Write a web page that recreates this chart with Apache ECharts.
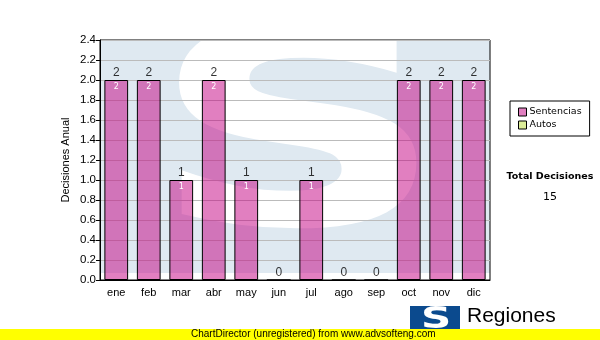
<!DOCTYPE html>
<html><head><meta charset="utf-8">
<script src="https://cdn.jsdelivr.net/npm/echarts@6/dist/echarts.min.js"></script>
<style>html,body{margin:0;padding:0;background:#fff}#c{width:600px;height:340px}</style>
</head><body><div id="c"></div>
<script>
var categories = ['ene','feb','mar','abr','may','jun','jul','ago','sep','oct','nov','dic'];
var sentencias = [2,2,1,2,1,0,1,0,0,2,2,2];
var autos = [0,0,0,0,0,0,0,0,0,0,0,0];
var totalDecisiones = 15;
var totals = sentencias.map(function(v,i){return v+autos[i];});

var chart = echarts.init(document.getElementById('c'), null, {renderer:'canvas'});
var font = 'Liberation Sans, Arial, sans-serif';
chart.setOption({
  animation:false,
  backgroundColor:'#ffffff',
  grid:{left:100,right:110,top:40,bottom:60,show:true,borderColor:'#000',borderWidth:1,backgroundColor:'transparent'},
  legend:{
    data:['Sentencias','Autos'], orient:'vertical', left:510, top:101,
    width:80, itemWidth:8, itemHeight:8, itemGap:3, padding:[6,8,6,8],
    borderColor:'#000', borderWidth:1, icon:'rect', selectedMode:false,
    textStyle:{fontFamily:'DejaVu Sans',fontSize:9.5,color:'#000',padding:[0,0,0,-2]},
    itemStyle:{borderColor:'#000',borderWidth:1}
  },
  xAxis:{type:'category',data:categories,
    axisLine:{lineStyle:{color:'#000'}},
    axisTick:{alignWithLabel:true,length:4,lineStyle:{color:'#000'}},
    axisLabel:{color:'#000',fontFamily:font,fontSize:11,margin:7}},
  yAxis:{type:'value',min:0,max:2.4,interval:0.2,
    name:'Decisiones Anual',nameLocation:'middle',nameGap:29,nameMoveOverlap:false,
    nameTextStyle:{fontFamily:font,fontSize:11,color:'#000'},
    axisLine:{show:true,lineStyle:{color:'#000'}},
    axisTick:{show:true,length:4,lineStyle:{color:'#000'}},
    axisLabel:{color:'#000',fontFamily:font,fontSize:11.5,margin:4,formatter:function(v){return v.toFixed(1);}},
    splitLine:{lineStyle:{color:'#bbbbbb'}}},
  graphic:[
    {type:'rect',z:-10,silent:true,shape:{x:101,y:41,width:389,height:232},style:{fill:'#dfe9f1'}},
    {type:'text',z:-9,silent:true,x:298,y:153,scaleX:1.5,
      style:{x:0,y:0,text:'S',fontFamily:'DejaVu Sans',fontWeight:'bold',fontSize:275,fill:'#ffffff',align:'center',verticalAlign:'middle'}},
    {type:'text',x:550,y:177,style:{x:0,y:0,text:'Total Decisiones',fontFamily:'DejaVu Sans',fontWeight:'bold',fontSize:9.5,fill:'#000',align:'center',verticalAlign:'middle'}},
    {type:'text',x:550,y:197,style:{x:0,y:0,text:String(totalDecisiones),fontFamily:'DejaVu Sans',fontSize:11,fill:'#000',align:'center',verticalAlign:'middle'}},
    {type:'rect',shape:{x:410,y:306,width:50,height:34},style:{fill:'#0b4a8e'}},
    {type:'text',x:436,y:320,scaleX:1.4,style:{x:0,y:0,text:'S',fontFamily:'DejaVu Sans',fontWeight:'bold',fontSize:30,fill:'#fff',align:'center',verticalAlign:'middle'}},
    {type:'text',x:467,y:316,style:{x:0,y:0,text:'Regiones',fontFamily:font,fontSize:21,fill:'#000',align:'left',verticalAlign:'middle'}},
    {type:'text',x:467,y:335,style:{x:0,y:0,text:'Tribunal Supremo de Justicia',fontFamily:font,fontSize:11,fill:'#000',align:'left',verticalAlign:'middle'}},
    {type:'rect',z:50,shape:{x:0,y:329,width:600,height:11},style:{fill:'#ffff00'}},
    {type:'text',z:51,x:191,y:334.5,style:{x:0,y:0,text:'ChartDirector (unregistered) from www.advsofteng.com',fontFamily:font,fontSize:10,fill:'#000',align:'left',verticalAlign:'middle'}}
  ],
  series:[
    {name:'Sentencias',type:'bar',stack:'a',data:sentencias,barCategoryGap:'27%',
      itemStyle:{color:'rgba(195,0,130,0.5)',borderColor:'#000',borderWidth:1},
      label:{show:true,position:'insideTop',distance:3,color:'#fff',fontFamily:'DejaVu Sans',fontSize:8,
        formatter:function(p){return p.value>0?String(p.value):'';}}},
    {name:'Autos',type:'bar',stack:'a',data:autos,
      itemStyle:{color:'#ddee99',borderColor:'#000',borderWidth:0}},
    {name:'Total',type:'scatter',data:totals,symbolSize:0,silent:true,
      label:{show:true,position:'top',distance:1,color:'#000',fontFamily:font,fontSize:12,
        formatter:function(p){return String(p.value);}}}
  ]
});
</script></body></html>
